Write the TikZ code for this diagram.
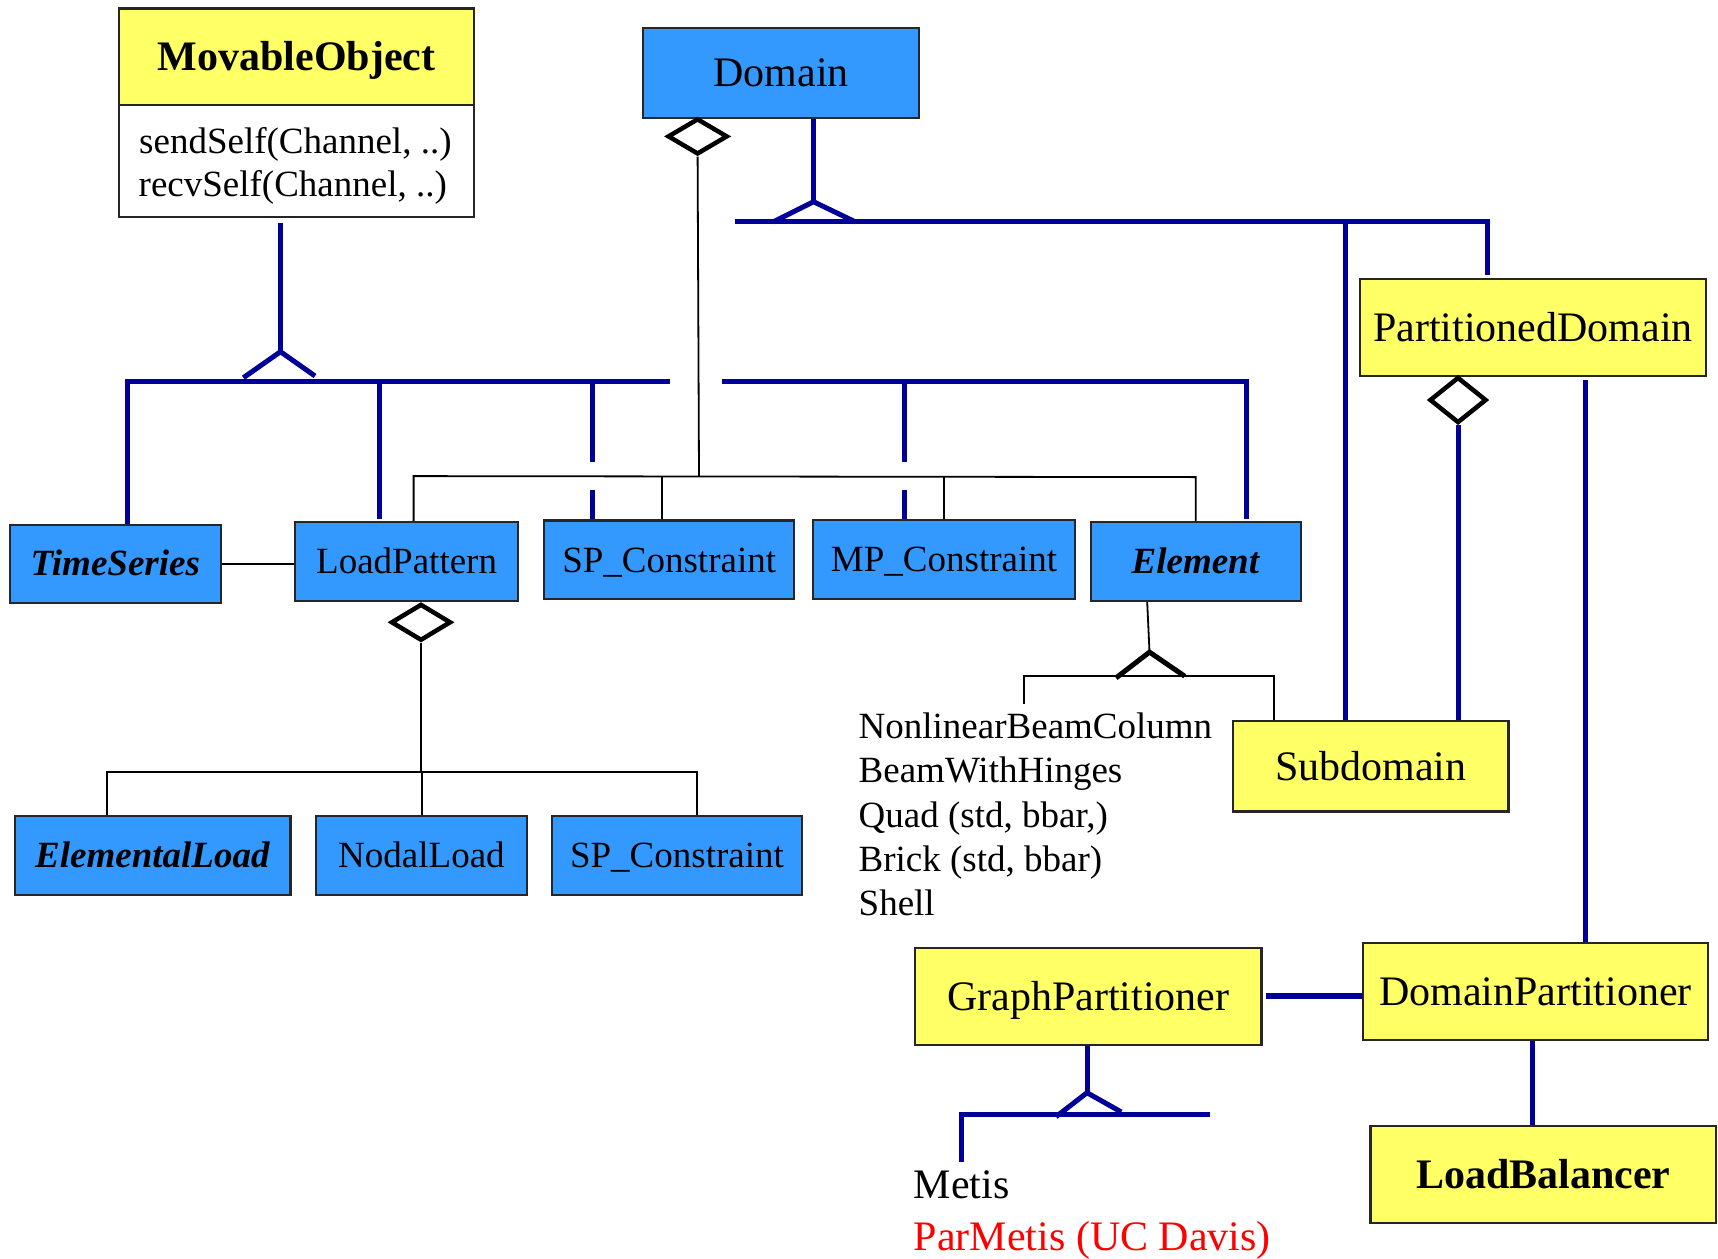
\documentclass[tikz,border=0pt]{standalone}
\usepackage{fontspec}
\setmainfont{Liberation Serif}
\usetikzlibrary{shapes.geometric}
\definecolor{boxblue}{RGB}{51,153,255}
\definecolor{boxyellow}{RGB}{255,255,102}
\definecolor{linkblue}{RGB}{0,0,153}
\definecolor{notered}{RGB}{255,0,0}

\begin{document}
\begin{tikzpicture}[x=1pt,y=-1pt,
  box/.style={draw=black!85, line width=2.2pt, inner sep=0pt, text depth=0pt},
  smallfont/.style={font=\fontsize{37}{44}\selectfont, text height=24.5pt},
  bigfont/.style={font=\fontsize{42}{50}\selectfont, text height=27.8pt},
  bluebox/.style={box, fill=boxblue, smallfont},
  yellowbox/.style={box, fill=boxyellow, bigfont},
  gen/.style={draw=linkblue, line width=5pt, line join=miter},
  agg/.style={draw=black, line width=1.8pt},
  hollowdiamond/.style={diamond, draw=black, fill=white, line width=4.5pt, inner sep=0pt},
  listtext/.style={anchor=base west, inner sep=0pt, font=\fontsize{37}{44}\selectfont},
  notetext/.style={anchor=base west, inner sep=0pt, font=\fontsize{42}{50}\selectfont}
]
\fill[white] (0,0) rectangle (1718,1258);
\useasboundingbox (0,0) rectangle (1718,1258);

% ---------- classes ----------
\node[yellowbox, minimum width=355pt, minimum height=96.5pt] (mo) at (296.5,56.75) {\textbf{MovableObject}};
\node[box, fill=white, minimum width=355pt, minimum height=111.7pt] (methods) at (296.5,160.85) {};
\node[listtext] (send) at (139,153.3) {sendSelf(Channel, ..)};
\node[listtext] (recv) at (138.5,196.7) {recvSelf(Channel, ..)};

\node[box, fill=boxblue, bigfont, minimum width=276pt, minimum height=89.7pt] (dom) at (781,72.85) {Domain};
\node[yellowbox, minimum width=346pt, minimum height=97pt] (pd) at (1533,327.2) {PartitionedDomain};

\node[bluebox, minimum width=210.6pt, minimum height=78.2pt] (ts) at (115.3,563.7) {\textbf{\textit{TimeSeries}}};
\node[bluebox, minimum width=223.2pt, minimum height=79.2pt] (lp) at (406.6,561.5) {LoadPattern};
\node[bluebox, minimum width=249.9pt, minimum height=78.5pt] (sp) at (669.15,559.75) {SP\_Constraint};
\node[bluebox, minimum width=262.3pt, minimum height=78.5pt] (mp) at (944.05,559.45) {MP\_Constraint};
\node[bluebox, minimum width=209.6pt, minimum height=79.2pt] (el) at (1195.8,561.5) {\textbf{\textit{Element}}};

\node[yellowbox, minimum width=275.1pt, minimum height=90.6pt] (sub) at (1370.85,766.2) {Subdomain};

\node[bluebox, minimum width=275.9pt, minimum height=78.6pt] (eload) at (152.55,855.6) {\textbf{\textit{ElementalLoad}}};
\node[bluebox, minimum width=210.9pt, minimum height=78.6pt] (nload) at (421.45,855.6) {NodalLoad};
\node[bluebox, minimum width=250.4pt, minimum height=78.6pt] (spc) at (677,855.6) {SP\_Constraint};

\node[yellowbox, minimum width=346.1pt, minimum height=97.3pt] (gp) at (1088.35,996.35) {GraphPartitioner};
\node[yellowbox, minimum width=345.5pt, minimum height=97.3pt] (dp) at (1535.45,991.35) {DomainPartitioner};
\node[yellowbox, minimum width=345.5pt, minimum height=97pt] (lb) at (1543.25,1174.2) {\textbf{LoadBalancer}};

% ---------- element list and partitioner list ----------
\node[listtext] (nbc) at (858.5,738.2) {NonlinearBeamColumn};
\node[listtext] (bwh) at (858.5,782.2) {BeamWithHinges};
\node[listtext] (quad) at (858.5,827) {Quad (std, bbar,)};
\node[listtext] (brick) at (858.5,871.8) {Brick (std, bbar)};
\node[listtext] (shell) at (858.5,915.5) {Shell};
\node[notetext] (metis) at (913.7,1198.3) {Metis};
\node[notetext, text=notered] (parmetis) at (913.7,1250) {ParMetis (UC Davis)};

% ---------- aggregation diamonds ----------
\node[hollowdiamond, minimum width=60pt, minimum height=36pt] (dDia) at (697.6,136.4) {};
\node[hollowdiamond, minimum width=60pt, minimum height=36.8pt] (lpDia) at (421,622.3) {};
\node[hollowdiamond, minimum width=57pt, minimum height=46pt] (pdDia) at (1458,400) {};

% ---------- MovableObject hierarchy ----------
\coordinate (moApex) at (280.5,351.7);
\coordinate (barTS) at (127.4,381.7);
\coordinate (barGapL) at (670,381.7);
\coordinate (barGapR) at (721.7,381.7);
\coordinate (barLP) at (379.5,381.7);
\coordinate (barSP) at (592.5,381.7);
\coordinate (barMP) at (904.2,381.7);
\coordinate (barEl) at (1246.7,381.7);
\coordinate (hopTop) at (0,461.6);
\coordinate (hopBot) at (0,490.2);

\draw[gen] ([yshift=-5pt]moApex |- methods.south) -- (moApex);
\draw[gen] (243.4,377.7) -- (moApex) -- (315,376);
\draw[gen] (barTS |- ts.north) -- (barTS) -- (barGapL);
\draw[gen] (barGapR) -- (barEl) -- ([yshift=2pt]barEl |- el.north);
\draw[gen] (barLP) -- ([yshift=2pt]barLP |- lp.north);
\draw[gen] (barSP) -- (barSP |- hopTop);
\draw[gen] (barSP |- hopBot) -- (barSP |- sp.north);
\draw[gen] (barMP) -- (barMP |- hopTop);
\draw[gen] (barMP |- hopBot) -- (barMP |- mp.north);

% ---------- Domain hierarchy ----------
\coordinate (dApex) at (813.5,201.7);
\coordinate (dBarL) at (735,221.7);
\coordinate (dBarSub) at (1345.6,221.7);
\coordinate (dBarPD) at (1487,221.7);
\draw[gen] (dApex |- dom.south) -- (dApex);
\draw[gen] (773,222) -- (dApex) -- (855.6,222);
\draw[gen] (dBarL) -- (dBarPD) -- ([yshift=3pt]dBarPD |- pd.north);
\draw[gen] (dBarSub) -- (dBarSub |- sub.north);

% ---------- Domain aggregation ----------
\coordinate (aggJ) at (699,476.5);
\coordinate (jLP) at (413.6,476.1);
\coordinate (jSP) at (661.8,476.3);
\coordinate (jMP) at (944,476.8);
\coordinate (jEl) at (1195.8,477.1);
\draw[agg] (dDia.south) -- (aggJ);
\draw[agg] (jLP |- lp.north) -- (jLP) -- (jEl) -- (jEl |- el.north);
\draw[agg] (jSP) -- (jSP |- sp.north);
\draw[agg] (jMP) -- (jMP |- mp.north);

% ---------- LoadPattern aggregation ----------
\coordinate (lpJ) at (421,771.6);
\coordinate (jEL) at (106.8,771.6);
\coordinate (jNL) at (421.7,771.6);
\coordinate (jSPC) at (697,771.6);
\draw[agg] (lpDia.south) -- (lpJ);
\draw[agg] (jEL |- eload.north) -- (jEL) -- (jSPC) -- (jSPC |- spc.north);
\draw[agg] (jNL) -- (jNL |- nload.north);
\draw[agg] (ts.east) -- (ts.east -| lp.west);

% ---------- Element subclasses ----------
\coordinate (elStem) at (1147.2,601);
\coordinate (elApex) at (1149.5,652.1);
\coordinate (elBarL) at (1024.2,676.2);
\coordinate (elBarR) at (1274.2,676.2);
\draw[agg] (elStem |- el.south) -- (elApex);
\draw[black, line width=5pt] (1116,677.9) -- (elApex) -- (1184.7,676.2);
\draw[agg] (1024.2,703.7) -- (elBarL) -- (elBarR) -- (elBarR |- sub.north);

% ---------- PartitionedDomain links ----------
\draw[gen] (pdDia.south) -- (pdDia.south |- sub.north);
\coordinate (pdDrop) at (1585,380);
\draw[gen] (pdDrop) -- (pdDrop |- dp.north);

% ---------- partitioners ----------
\coordinate (gpLink) at (1266.4,995.7);
\draw[draw=linkblue, line width=6pt] (gpLink) -- (gpLink -| dp.west);
\coordinate (lbDrop) at (1532.2,1040);
\draw[gen] (lbDrop |- dp.south) -- (lbDrop |- lb.north);

\coordinate (gpApex) at (1087,1092.7);
\coordinate (gpBarL) at (961.8,1114.3);
\coordinate (gpBarR) at (1209.9,1114.3);
\draw[gen] (gpApex |- gp.south) -- (gpApex);
\draw[gen] (1056,1116.7) -- (gpApex) -- (1121.3,1112);
\draw[gen] (gpBarR) -- (gpBarL) -- (961.8,1161.7);
\end{tikzpicture}
\end{document}
